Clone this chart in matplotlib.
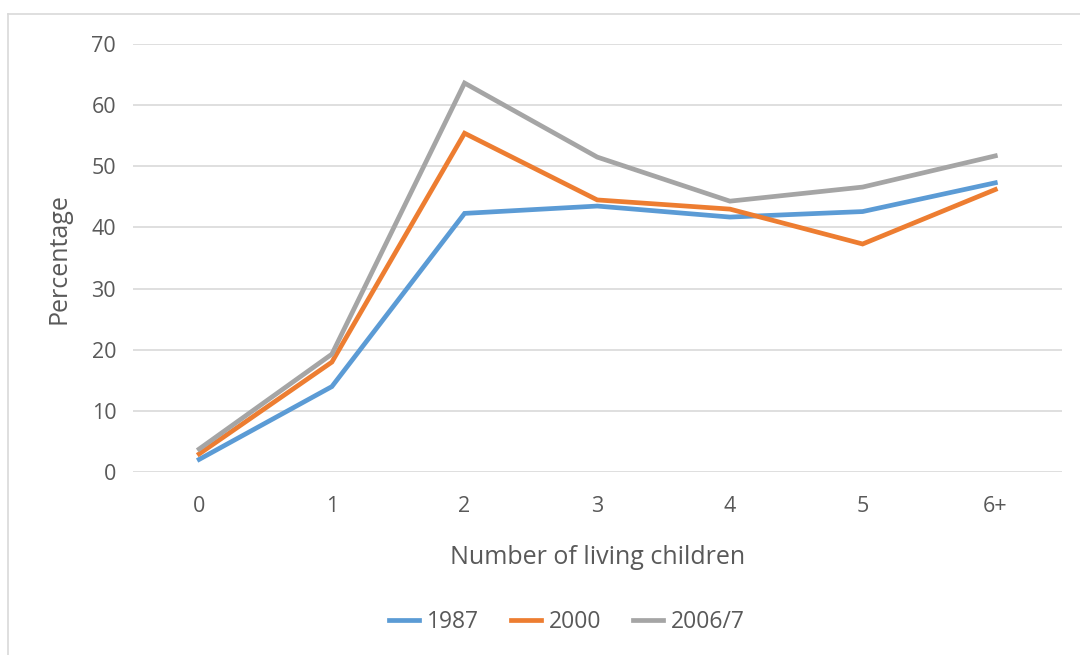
import matplotlib
matplotlib.use("Agg")
import matplotlib.pyplot as plt
from matplotlib.lines import Line2D

plt.rcParams['font.family'] = ['Open Sans', 'DejaVu Sans']

categories = ['0', '1', '2', '3', '4', '5', '6+']
series_names = ['1987', '2000', '2006/7']
vals_1987 = [2.1, 14.0, 42.3, 43.5, 41.7, 42.6, 47.3]
vals_2000 = [3.0, 18.0, 55.4, 44.5, 43.0, 37.3, 46.2]
vals_2006 = [3.8, 19.3, 63.6, 51.5, 44.3, 46.6, 51.7]
colors = ['#5B9BD5', '#ED7D31', '#A5A5A5']
text_col = '#595959'

fig = plt.figure(figsize=(10.8, 6.55), dpi=100)
ax = fig.add_axes([0.123, 0.279, 0.860, 0.654])

x = list(range(len(categories)))
for vals, name, c in zip([vals_1987, vals_2000, vals_2006], series_names, colors):
    ax.plot(x, vals, color=c, lw=3.4, label=name, solid_joinstyle='miter')

ax.set_xlim(-0.5, len(categories) - 0.5)
ax.set_ylim(0, 70)
ax.set_yticks(range(0, 71, 10))
ax.set_xticks(x)
ax.set_xticklabels(categories)
ax.yaxis.grid(True, color='#D9D9D9', lw=1.2)
ax.set_axisbelow(True)
for s in ax.spines.values():
    s.set_visible(False)
ax.tick_params(length=0, colors=text_col, labelsize=15.5)
ax.tick_params(axis='y', pad=12)
ax.tick_params(axis='x', pad=17)
ax.set_ylabel('Percentage', fontsize=18, color=text_col, labelpad=14)
ax.set_xlabel('Number of living children', fontsize=18, color=text_col, labelpad=20)

handles = [Line2D([], [], color=c, lw=3.4) for c in colors]
fig.legend(handles, series_names, loc='center', bbox_to_anchor=(0.525, 0.05),
           ncol=3, frameon=False, fontsize=16.5, labelcolor=text_col,
           handlelength=1.3, handletextpad=0.35, columnspacing=1.4)

# outer chart border (top and left edges visible)
fig.add_artist(Line2D([0.007, 1.0], [1 - 14 / 655, 1 - 14 / 655], color='#D9D9D9', lw=1.2))
fig.add_artist(Line2D([0.007, 0.007], [0.0, 1 - 14 / 655], color='#D9D9D9', lw=1.2))

fig.savefig('out.png', dpi=100, facecolor='white')
